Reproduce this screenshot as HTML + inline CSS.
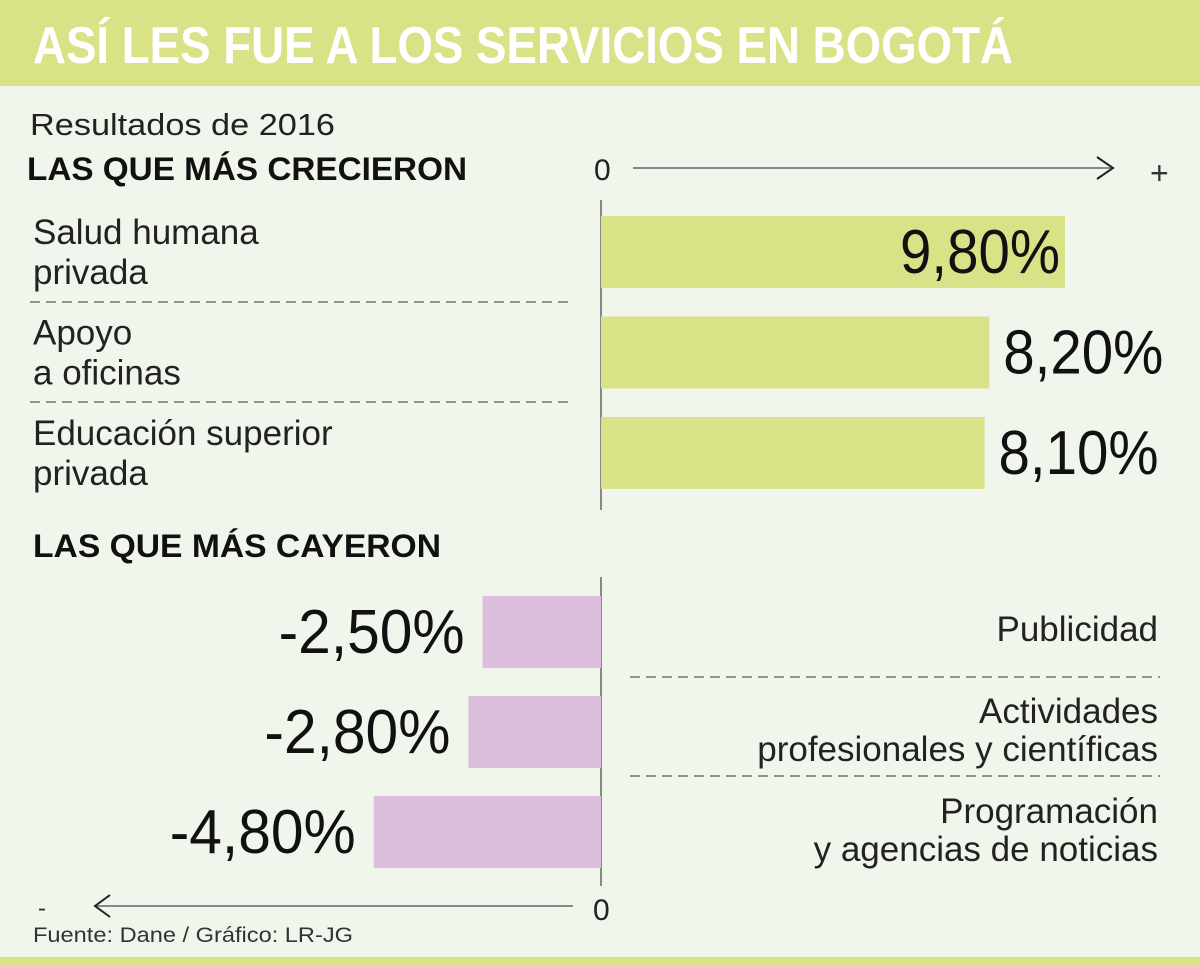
<!DOCTYPE html>
<html><head><meta charset="utf-8"><style>
html,body{margin:0;padding:0;background:#f1f6ec;}
svg{display:block;font-family:"Liberation Sans",sans-serif;}
</style></head><body>
<svg id="chart" width="1200" height="965" viewBox="0 0 1200 965">
<rect x="0" y="0" width="1200" height="965" fill="#f1f6ec"/>
<rect x="0" y="0" width="1200" height="86" fill="#d9e287"/>
<text x="33" y="63" font-size="52" font-weight="bold" fill="#fff" textLength="980" lengthAdjust="spacingAndGlyphs">ASÍ LES FUE A LOS SERVICIOS EN BOGOTÁ</text>
<text x="30" y="135" font-size="31" fill="#222" textLength="305" lengthAdjust="spacingAndGlyphs">Resultados de 2016</text>
<text x="27" y="180" font-size="32" font-weight="bold" fill="#111" textLength="440" lengthAdjust="spacingAndGlyphs">LAS QUE MÁS CRECIERON</text>
<text x="33" y="557" font-size="32" font-weight="bold" fill="#111" textLength="408" lengthAdjust="spacingAndGlyphs">LAS QUE MÁS CAYERON</text>
<text x="594" y="180" font-size="30" fill="#222">0</text>
<line x1="633" y1="168" x2="1113" y2="168" stroke="#888" stroke-width="2"/>
<polyline points="1097,157 1113,168 1097,179" fill="none" stroke="#222" stroke-width="2"/>
<text x="1150" y="184" font-size="32" fill="#333">+</text>
<line x1="601" y1="200" x2="601" y2="510" stroke="#666" stroke-width="1.5"/>
<line x1="601" y1="577" x2="601" y2="886" stroke="#666" stroke-width="1.5"/>
<line x1="95" y1="906" x2="573" y2="906" stroke="#888" stroke-width="2"/>
<polyline points="110,895 95,906 110,917" fill="none" stroke="#222" stroke-width="2"/>
<text x="593" y="920" font-size="30" fill="#222">0</text>
<text x="38" y="916" font-size="24" fill="#333">-</text>
<line x1="30" y1="302" x2="573" y2="302" stroke="#333" stroke-width="1" stroke-dasharray="10,6"/>
<line x1="30" y1="402" x2="573" y2="402" stroke="#333" stroke-width="1" stroke-dasharray="10,6"/>
<line x1="630" y1="677" x2="1160" y2="677" stroke="#333" stroke-width="1" stroke-dasharray="10,6"/>
<line x1="630" y1="776" x2="1160" y2="776" stroke="#333" stroke-width="1" stroke-dasharray="10,6"/>
<text x="33" y="942" font-size="21" fill="#333" textLength="320" lengthAdjust="spacingAndGlyphs">Fuente: Dane / Gráfico: LR-JG</text>
<rect x="0" y="957" width="1200" height="8" fill="#d9e287"/>
<g id="marks"></g>
</svg>
<script>
const posCategories = [["Salud humana","privada"],["Apoyo","a oficinas"],["Educación superior","privada"]];
const posValues = [9.8, 8.2, 8.1];
const posLabels = ["9,80%","8,20%","8,10%"];
const negCategories = [["Publicidad"],["Actividades","profesionales y científicas"],["Programación","y agencias de noticias"]];
const negValues = [-2.5, -2.8, -4.8];
const negLabels = ["-2,50%","-2,80%","-4,80%"];

const NS = "http://www.w3.org/2000/svg";
const g = document.getElementById("marks");
const x0 = 601, scale = 47.35;
function xScale(v){ return x0 + v * scale; }
function mk(tag, attrs, txt){ const e=document.createElementNS(NS,tag); for(const k in attrs) e.setAttribute(k,attrs[k]); if(txt!==undefined) e.textContent=txt; g.appendChild(e); return e; }
function labelWidth(s){ return s.length * 31; }

posValues.forEach((v,i)=>{
  const y = 216 + i*100.5;
  const r = mk("rect",{x:x0,y:y,width:xScale(v)-x0,height:72,fill:"#d9e287"});
  
  
  const inside = i===0;
  const xe = xScale(v);
  const t = mk("text",{x: inside ? xe-5 : xe+14, y:y+57, "font-size":62, fill:"#111", "text-anchor": inside?"end":"start", textLength: labelWidth(posLabels[i])+5, lengthAdjust:"spacingAndGlyphs"}, posLabels[i]);
  
  
  posCategories[i].forEach((line,j)=>{
    const c = mk("text",{x:33,y:y+28+j*40,"font-size":35,fill:"#222"}, line);
    
    
  });
});

negValues.forEach((v,i)=>{
  const y = 596 + i*100;
  const xs = xScale(v);
  const r = mk("rect",{x:xs,y:y,width:x0-xs,height:72,fill:"#dcbfdd"});
  
  
  const t = mk("text",{x: xs-18, y:y+57, "font-size":62, fill:"#111", "text-anchor":"end", textLength: labelWidth(negLabels[i]), lengthAdjust:"spacingAndGlyphs"}, negLabels[i]);
  
  
  const lines = negCategories[i];
  const startY = lines.length===1 ? y+45 : y+27;
  lines.forEach((line,j)=>{
    const c = mk("text",{x:1158,y:startY+j*38,"font-size":35,fill:"#222","text-anchor":"end"}, line);
    
    
  });
});
</script>
</body></html>
